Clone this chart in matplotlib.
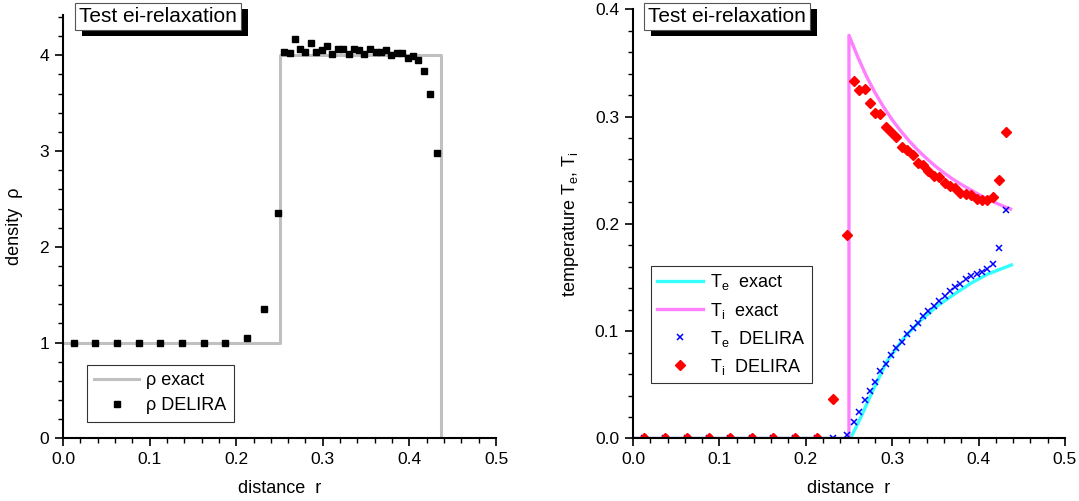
import matplotlib
matplotlib.use("Agg")
import matplotlib.pyplot as plt
import matplotlib.patheffects as pe
from matplotlib.ticker import MultipleLocator, FormatStrFormatter

plt.rcParams['font.family'] = ['Liberation Sans', 'DejaVu Sans']
plt.rcParams['mathtext.fontset'] = 'custom'
plt.rcParams['mathtext.rm'] = 'Liberation Sans'

# exact solutions
r_rho_exact = [0.0, 0.25, 0.25, 0.437, 0.437]
rho_exact = [1.0, 1.0, 4.0, 4.0, 0.0]

r_ti_exact = [0.0, 0.25, 0.25, 0.26, 0.27, 0.28, 0.29, 0.30, 0.31, 0.32, 0.33, 0.34,
              0.35, 0.36, 0.37, 0.38, 0.39, 0.40, 0.41, 0.42, 0.43, 0.437]
ti_exact = [0.0, 0.0, 0.3757, 0.356, 0.338, 0.3225, 0.309, 0.297, 0.2865, 0.277, 0.2685, 0.2608,
            0.2538, 0.2475, 0.2418, 0.2367, 0.2321, 0.2275, 0.2233, 0.2195, 0.216, 0.2138]

r_te_exact = [0.0, 0.2517, 0.2633, 0.279, 0.294, 0.3136, 0.333, 0.352, 0.3716, 0.391, 0.410, 0.438]
te_exact = [0.0, 0.0, 0.019, 0.047, 0.072, 0.0937, 0.110, 0.1234, 0.1343, 0.1446, 0.153, 0.1617]

# DELIRA cells
r_delira = [0.0125, 0.0375, 0.0625, 0.0875, 0.1125, 0.1375, 0.1625, 0.1875, 0.2125, 0.232, 0.248,
            0.2556, 0.2618, 0.268, 0.274, 0.280, 0.2865, 0.2927, 0.299, 0.305, 0.311,
            0.3175, 0.3237, 0.330, 0.336, 0.342, 0.348, 0.3546, 0.361, 0.367, 0.373,
            0.379, 0.3855, 0.3917, 0.398, 0.404, 0.410, 0.417, 0.4234, 0.4316]
rho_delira = [1.0, 1.0, 1.0, 1.0, 1.0, 1.0, 1.0, 1.0, 1.05, 1.35, 2.35,
              4.03, 4.02, 4.17, 4.07, 4.03, 4.13, 4.03, 4.05, 4.10, 4.01,
              4.06, 4.06, 4.01, 4.06, 4.05, 4.01, 4.06, 4.03, 4.03, 4.05,
              4.00, 4.02, 4.02, 3.97, 3.99, 3.95, 3.84, 3.60, 2.98]
te_delira = [0.0, 0.0, 0.0, 0.0, 0.0, 0.0, 0.0, 0.0, 0.0, 0.0, 0.0035,
             0.015, 0.025, 0.036, 0.0445, 0.053, 0.0626, 0.0695, 0.0776, 0.0844, 0.090,
             0.0969, 0.1025, 0.108, 0.1137, 0.1187, 0.1234, 0.128, 0.1327, 0.1374, 0.141,
             0.1442, 0.1483, 0.1514, 0.1535, 0.1555, 0.1575, 0.1625, 0.1773, 0.213]
ti_delira = [0.0, 0.0, 0.0, 0.0, 0.0, 0.0, 0.0, 0.0, 0.0, 0.0367, 0.190,
             0.3336, 0.325, 0.326, 0.313, 0.3034, 0.302, 0.2907, 0.2853, 0.2813, 0.272,
             0.2689, 0.2642, 0.2567, 0.2549, 0.2495, 0.2449, 0.2433, 0.238, 0.2349, 0.233,
             0.229, 0.228, 0.2268, 0.2234, 0.2224, 0.2221, 0.2246, 0.241, 0.286]

fig = plt.figure(figsize=(10.79, 5.01), dpi=100)
ax1 = fig.add_axes([0.0584, 0.1248, 0.4013, 0.8453])
ax2 = fig.add_axes([0.5866, 0.1248, 0.4004, 0.8567])


def style_axes(ax):
    for side in ['top', 'right']:
        ax.spines[side].set_visible(False)
    for side in ['left', 'bottom']:
        ax.spines[side].set_linewidth(1.5)
    ax.tick_params(which='major', direction='out', length=6, width=1.2, labelsize=12.5, pad=4)
    ax.tick_params(which='minor', direction='out', length=3.5, width=1.0)
    ax.set_xlim(0, 0.5)
    ax.xaxis.set_major_locator(MultipleLocator(0.1))
    ax.xaxis.set_minor_locator(MultipleLocator(0.02))
    ax.xaxis.set_major_formatter(FormatStrFormatter('%.1f'))
    ax.set_xlabel('distance  r', fontsize=13, labelpad=9)


def title_box(x_px):
    t = fig.text((x_px + 4.2) / 1079, 1 - 7.0 / 501, 'Test ei-relaxation', fontsize=15,
                 ha='left', va='top', zorder=10,
                 bbox=dict(boxstyle='square,pad=0.2', fc='white', ec='#555555', lw=0.8))
    t.get_bbox_patch().set_path_effects([
        pe.SimplePatchShadow(offset=(5, -4.5), shadow_rgbFace='black', alpha=1.0), pe.Normal()])


# left panel: density
style_axes(ax1)
ax1.plot(r_rho_exact, rho_exact, color='#c0c0c0', lw=2.2, label='ρ exact')
ax1.plot(r_delira, rho_delira, ls='none', marker='s', ms=4.3, color='black', label='ρ DELIRA')
ax1.set_ylim(0, 4.42)
ax1.yaxis.set_major_locator(MultipleLocator(1))
ax1.yaxis.set_minor_locator(MultipleLocator(0.2))
ax1.set_ylabel('density  ρ', fontsize=13, labelpad=12)
title_box(75)
leg1 = ax1.legend(loc='lower left', bbox_to_anchor=(0.055, 0.04), fontsize=13, frameon=True,
                  fancybox=False, edgecolor='black', handlelength=2.5, handletextpad=0.4,
                  borderpad=0.4, labelspacing=0.45, borderaxespad=0)
leg1.get_frame().set_linewidth(0.8)

# right panel: temperatures
style_axes(ax2)
ax2.plot(r_te_exact, te_exact, color='#33ffff', lw=2.4, label=r'T$_\mathregular{e}$  exact')
ax2.plot(r_ti_exact, ti_exact, color='#ff80ff', lw=2.4, label=r'T$_\mathregular{i}$  exact')
ax2.plot(r_delira, te_delira, ls='none', marker='x', ms=5, mew=1.1, color='#0000ff',
         label=r'T$_\mathregular{e}$  DELIRA')
ax2.plot(r_delira, ti_delira, ls='none', marker='D', ms=4.6, color='#ff0000',
         label=r'T$_\mathregular{i}$  DELIRA')
ax2.set_ylim(0, 0.4)
ax2.yaxis.set_major_locator(MultipleLocator(0.1))
ax2.yaxis.set_minor_locator(MultipleLocator(0.02))
ax2.yaxis.set_major_formatter(FormatStrFormatter('%.1f'))
ax2.set_ylabel(r'temperature T$_\mathregular{e}$, T$_\mathregular{i}$', fontsize=13, labelpad=10)
title_box(644)
leg2 = ax2.legend(loc='lower left', bbox_to_anchor=(0.042, 0.129), fontsize=13, frameon=True,
                  fancybox=False, edgecolor='black', handlelength=2.5, handletextpad=0.4,
                  borderpad=0.35, labelspacing=0.45, borderaxespad=0)
leg2.get_frame().set_linewidth(0.8)

fig.savefig('out.png', dpi=100)
